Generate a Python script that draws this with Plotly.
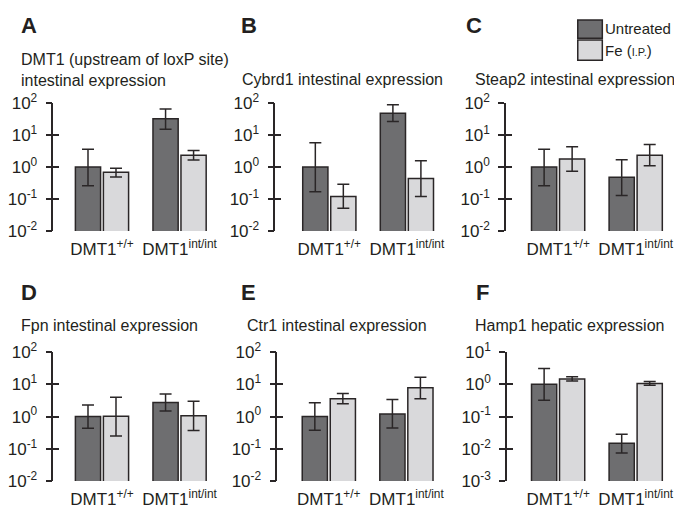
import plotly.graph_objects as go

# The page body adds an 8px margin on every side, so the figure is drawn
# smaller and every window-pixel position below is shifted by OFF.
WIN_W, WIN_H = 682, 520
OFF = 8
W, H = WIN_W - 2 * OFF, WIN_H - 2 * OFF

# ---------------- data ----------------
groups = ["DMT1<sup>+/+</sup>", "DMT1<sup>int/int</sup>"]
series_names = ["Untreated", "Fe (<span style='font-size:11px'>I.P.</span>)"]
panel_letters = ["A", "B", "C", "D", "E", "F"]
panel_titles = [
    "DMT1 (upstream of loxP site)<br>intestinal expression",
    "Cybrd1 intestinal expression",
    "Steap2 intestinal expression",
    "Fpn intestinal expression",
    "Ctr1 intestinal expression",
    "Hamp1 hepatic expression",
]
tick_exps_intestinal = [-2, -1, 0, 1, 2]
tick_exps_hepatic = [-3, -2, -1, 0, 1]

# means, upper and lower error limits per panel (Untreated / Fe)
A_untreated = [1.0, 31.8]; A_untreated_hi = [3.6, 65.0]; A_untreated_lo = [0.26, 15.0]
A_fe = [0.69, 2.33];       A_fe_hi = [0.91, 3.3];         A_fe_lo = [0.49, 1.66]

B_untreated = [1.0, 48.0]; B_untreated_hi = [5.7, 87.0]; B_untreated_lo = [0.17, 26.5]
B_fe = [0.12, 0.44];       B_fe_hi = [0.29, 1.58];        B_fe_lo = [0.052, 0.12]

C_untreated = [1.0, 0.48]; C_untreated_hi = [3.6, 1.69]; C_untreated_lo = [0.26, 0.13]
C_fe = [1.77, 2.33];       C_fe_hi = [4.3, 5.0];          C_fe_lo = [0.74, 1.1]

D_untreated = [1.0, 2.73]; D_untreated_hi = [2.3, 5.0];  D_untreated_lo = [0.43, 1.5]
D_fe = [1.02, 1.05];       D_fe_hi = [4.0, 3.0];          D_fe_lo = [0.25, 0.37]

E_untreated = [1.0, 1.2];  E_untreated_hi = [2.67, 3.4]; E_untreated_lo = [0.375, 0.44]
E_fe = [3.6, 7.8];         E_fe_hi = [5.2, 16.5];         E_fe_lo = [2.5, 3.6]

F_untreated = [1.0, 0.0147]; F_untreated_hi = [3.1, 0.028]; F_untreated_lo = [0.32, 0.0074]
F_fe = [1.47, 1.07];         F_fe_hi = [1.73, 1.23];         F_fe_lo = [1.26, 0.93]

panels = [
    (A_untreated, A_untreated_hi, A_untreated_lo, A_fe, A_fe_hi, A_fe_lo, tick_exps_intestinal),
    (B_untreated, B_untreated_hi, B_untreated_lo, B_fe, B_fe_hi, B_fe_lo, tick_exps_intestinal),
    (C_untreated, C_untreated_hi, C_untreated_lo, C_fe, C_fe_hi, C_fe_lo, tick_exps_intestinal),
    (D_untreated, D_untreated_hi, D_untreated_lo, D_fe, D_fe_hi, D_fe_lo, tick_exps_intestinal),
    (E_untreated, E_untreated_hi, E_untreated_lo, E_fe, E_fe_hi, E_fe_lo, tick_exps_intestinal),
    (F_untreated, F_untreated_hi, F_untreated_lo, F_fe, F_fe_hi, F_fe_lo, tick_exps_hepatic),
]

# ---------------- style / layout ----------------
COL_DARK = "#6e6e70"
COL_LIGHT = "#d9d9db"
COL_LINE = "#2a2627"
TXT = "#231f20"
FONT = "Liberation Sans, Arial, sans-serif"
series_colors = [COL_DARK, COL_LIGHT]

# window-pixel geometry of each panel
axis_x = [42, 268, 503, 42, 270, 504]
group0_c = [91.5, 323, 556, 91.5, 322.5, 556]
row_top = [94.7, 94.7, 94.7, 355.3, 355.3, 355.3]
row_bot = [228.7, 228.7, 228.7, 490, 490, 490]
CAT_PX = 79.0
X_RIGHT = 1.5
letter_pos = [(3, 14), (232, 14), (461, 14), (3, 293), (232, 293), (471, 293)]
title_pos = [(5, 60), (233, 70), (470, 70), (7, 327), (238, 327), (470, 327)]

fig = go.Figure()
layout = dict(
    width=W, height=H, margin=dict(l=0, r=0, t=0, b=0),
    paper_bgcolor="white", plot_bgcolor="white",
    showlegend=False, barmode="group", bargap=0.278, bargroupgap=0.1,
    font=dict(family=FONT, color=TXT, size=16),
)
annotations = []
shapes = []

def px_x(v):
    return min(max((v - OFF) / W, 0.0), 1.0)

def px_y(v):
    return min(max(1 - (v - OFF) / H, 0.0), 1.0)

for i, (u, uhi, ulo, f, fhi, flo, exps) in enumerate(panels):
    n = i + 1
    xa = "x" if n == 1 else f"x{n}"
    ya = "y" if n == 1 else f"y{n}"
    for vals, hi, lo, name, col in [(u, uhi, ulo, series_names[0], series_colors[0]),
                                     (f, fhi, flo, series_names[1], series_colors[1])]:
        fig.add_trace(go.Bar(
            x=groups, y=vals, name=name, xaxis=xa, yaxis=ya,
            marker=dict(color=col, line=dict(color=COL_LINE, width=1.5)),
            error_y=dict(type="data", symmetric=False,
                         array=[h - v for h, v in zip(hi, vals)],
                         arrayminus=[v - l for v, l in zip(vals, lo)],
                         color=COL_LINE, thickness=1.5, width=6),
            hoverinfo="skip",
        ))
    left = -(group0_c[i] - axis_x[i]) / CAT_PX
    x0 = axis_x[i]
    x1 = min(x0 + (X_RIGHT - left) * CAT_PX, WIN_W - OFF)
    right = left + (x1 - x0) / CAT_PX
    y_dom = [px_y(row_bot[i]), px_y(row_top[i])]
    layout["xaxis" + ("" if n == 1 else str(n))] = dict(
        domain=[px_x(x0), px_x(x1)], range=[left, right], anchor=ya,
        showline=False, showgrid=False, zeroline=False, ticks="",
        tickfont=dict(size=17, color=TXT, family=FONT), ticklabelstandoff=6,
        fixedrange=True,
    )
    rng = [exps[0], exps[-1]]
    tv = [10.0 ** e for e in exps]
    tt = [f"10<sup>{e}</sup>" for e in exps]
    layout["yaxis" + ("" if n == 1 else str(n))] = dict(
        domain=y_dom, type="log", range=rng, anchor=xa,
        showline=True, linecolor=COL_LINE, linewidth=1.5,
        showgrid=False, zeroline=False,
        ticks="outside", ticklen=6, tickwidth=1.5, tickcolor=COL_LINE,
        tickvals=tv, ticktext=tt, tickfont=dict(size=17, color=TXT, family=FONT),
        ticklabelstandoff=5, fixedrange=True,
    )
    # overlay axis to draw the inner half of the crossing tick marks
    m = n + 6
    layout[f"yaxis{m}"] = dict(
        domain=y_dom, type="log", range=rng, anchor=xa, overlaying=ya, side="left",
        showline=False, showgrid=False, zeroline=False,
        ticks="inside", ticklen=6, tickwidth=1.5, tickcolor=COL_LINE,
        tickvals=tv, showticklabels=False, fixedrange=True,
    )
    lx, ly = letter_pos[i]
    annotations.append(dict(text=f"<b>{panel_letters[i]}</b>", x=px_x(lx), y=px_y(ly),
                            xref="paper", yref="paper", xanchor="left", yanchor="middle",
                            borderpad=0, showarrow=False,
                            font=dict(size=22, color=TXT, family=FONT)))
    tx, ty = title_pos[i]
    annotations.append(dict(text=panel_titles[i], x=px_x(tx), y=px_y(ty), align="left",
                            xref="paper", yref="paper", xanchor="left", yanchor="middle",
                            borderpad=0, showarrow=False,
                            font=dict(size=16, color=TXT, family=FONT)))

# hidden helper traces to make overlay axes render
for i in range(6):
    n = i + 1
    fig.add_trace(go.Scatter(x=[], y=[], xaxis="x" if n == 1 else f"x{n}", yaxis=f"y{n+6}",
                             showlegend=False, hoverinfo="skip"))

# legend (drawn box-style like the original)
legend_items = [(series_names[0], series_colors[0], 6, 27), (series_names[1], series_colors[1], 29, 50)]
for name, col, yt, yb in legend_items:
    shapes.append(dict(type="rect", xref="paper", yref="paper",
                       x0=px_x(576), x1=px_x(601), y0=px_y(yb), y1=px_y(yt),
                       fillcolor=col, line=dict(color=COL_LINE, width=1.5)))
    annotations.append(dict(text=name, x=px_x(603), y=px_y((yt + yb) / 2),
                            xref="paper", yref="paper", xanchor="left", yanchor="middle",
                            borderpad=0, showarrow=False,
                            font=dict(size=15, color=TXT, family=FONT)))

layout["annotations"] = annotations
layout["shapes"] = shapes
fig.update_layout(**layout)
fig.write_html("out.html", config={"displayModeBar": False})
